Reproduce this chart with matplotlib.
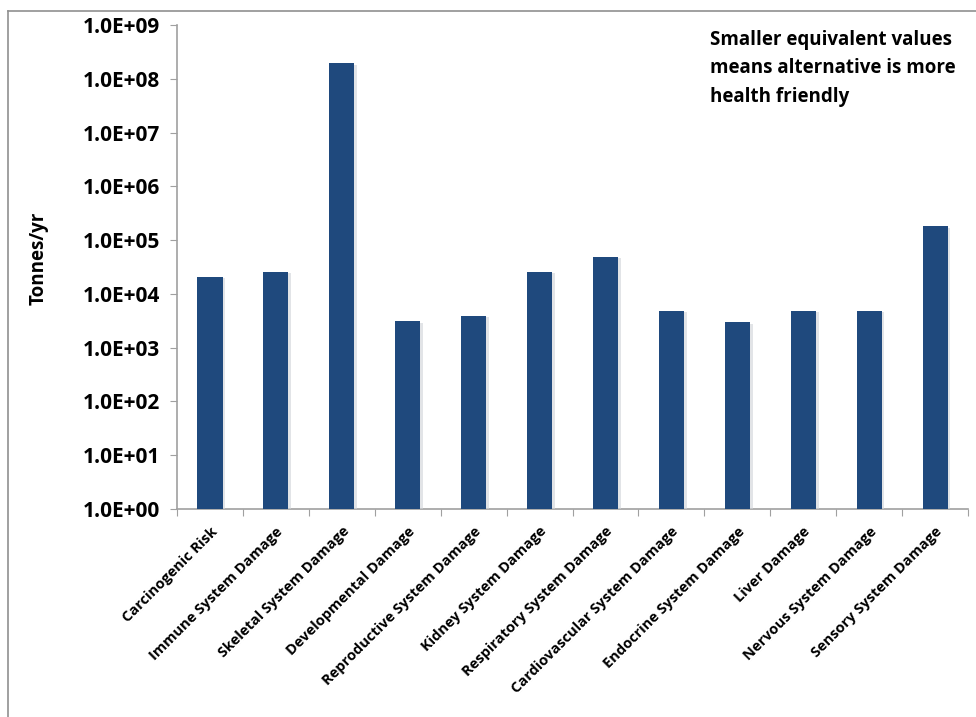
import math
import matplotlib.pyplot as plt
import matplotlib.patheffects as pe
from matplotlib.lines import Line2D
from matplotlib.ticker import FixedLocator, FuncFormatter, NullLocator

# health impact categories and their equivalent tonnes per year
categories = [
    "Carcinogenic Risk", "Immune System Damage", "Skeletal System Damage",
    "Developmental Damage", "Reproductive System Damage", "Kidney System Damage",
    "Respiratory System Damage", "Cardiovascular System Damage",
    "Endocrine System Damage", "Liver Damage", "Nervous System Damage",
    "Sensory System Damage",
]
tonnes_per_yr = [2.1e4, 2.6e4, 1.95e8, 3.1e3, 3.9e3, 2.6e4,
                 4.9e4, 4.8e3, 2.95e3, 4.8e3, 4.8e3, 1.8e5]
y_ticks = [10.0 ** k for k in range(0, 10)]

plt.rcParams['font.family'] = ['Open Sans', 'DejaVu Sans']

fig = plt.figure(figsize=(9.76, 7.17), dpi=100)
ax = fig.add_axes([0.1814, 0.2901, 0.8104, 0.6750])

x = range(len(categories))
bars = ax.bar(x, tonnes_per_yr, width=0.38, color='#1F497D', zorder=3)
for b in bars:
    b.set_path_effects([pe.SimplePatchShadow(offset=(2, -1), shadow_rgbFace='#cfd3d8', alpha=0.6),
                        pe.Normal()])

ax.set_yscale('log')
ax.set_ylim(1, 1e9)
ax.set_xlim(-0.5, len(categories) - 0.5)
ax.yaxis.set_major_locator(FixedLocator(y_ticks))
ax.yaxis.set_minor_locator(NullLocator())
ax.yaxis.set_major_formatter(FuncFormatter(lambda v, p: '1.0E+%02d' % round(math.log10(v))))

# boundary ticks between categories, labels centred under each bar
ax.set_xticks([i + 0.5 for i in range(-1, len(categories))], minor=False)
ax.set_xticklabels([])
ax.set_xticks(list(x), minor=True)
ax.set_xticklabels(categories, minor=True, rotation=45, ha='right', va='top',
                   rotation_mode='anchor', fontsize=10.5, fontweight='bold')
ax.tick_params(axis='x', which='minor', length=0, pad=11)
ax.tick_params(axis='x', which='major', length=5, color='#a0a0a0', direction='out')
ax.tick_params(axis='y', length=5, color='#a0a0a0', labelsize=15, pad=7)
for lab in ax.get_yticklabels():
    lab.set_fontweight('bold')

for side in ('top', 'right'):
    ax.spines[side].set_visible(False)
for side in ('left', 'bottom'):
    ax.spines[side].set_color('#a0a0a0')
    ax.spines[side].set_linewidth(1.2)

fig.text(0.040, 0.640, 'Tonnes/yr', rotation=90, ha='center', va='center',
         fontsize=13.5, fontweight='bold')
fig.text(0.727, 0.958, 'Smaller equivalent values\nmeans alternative is more\nhealth friendly',
         ha='left', va='top', fontsize=13.5, fontweight='bold', linespacing=1.55)

# chart area frame
fig.add_artist(Line2D([0.008, 1.0], [1 - 11 / 717, 1 - 11 / 717], transform=fig.transFigure,
                      color='#909090', lw=1.2))
fig.add_artist(Line2D([0.008, 0.008], [0.0, 1 - 11 / 717], transform=fig.transFigure,
                      color='#909090', lw=1.2))

fig.savefig('out.png', dpi=100)
